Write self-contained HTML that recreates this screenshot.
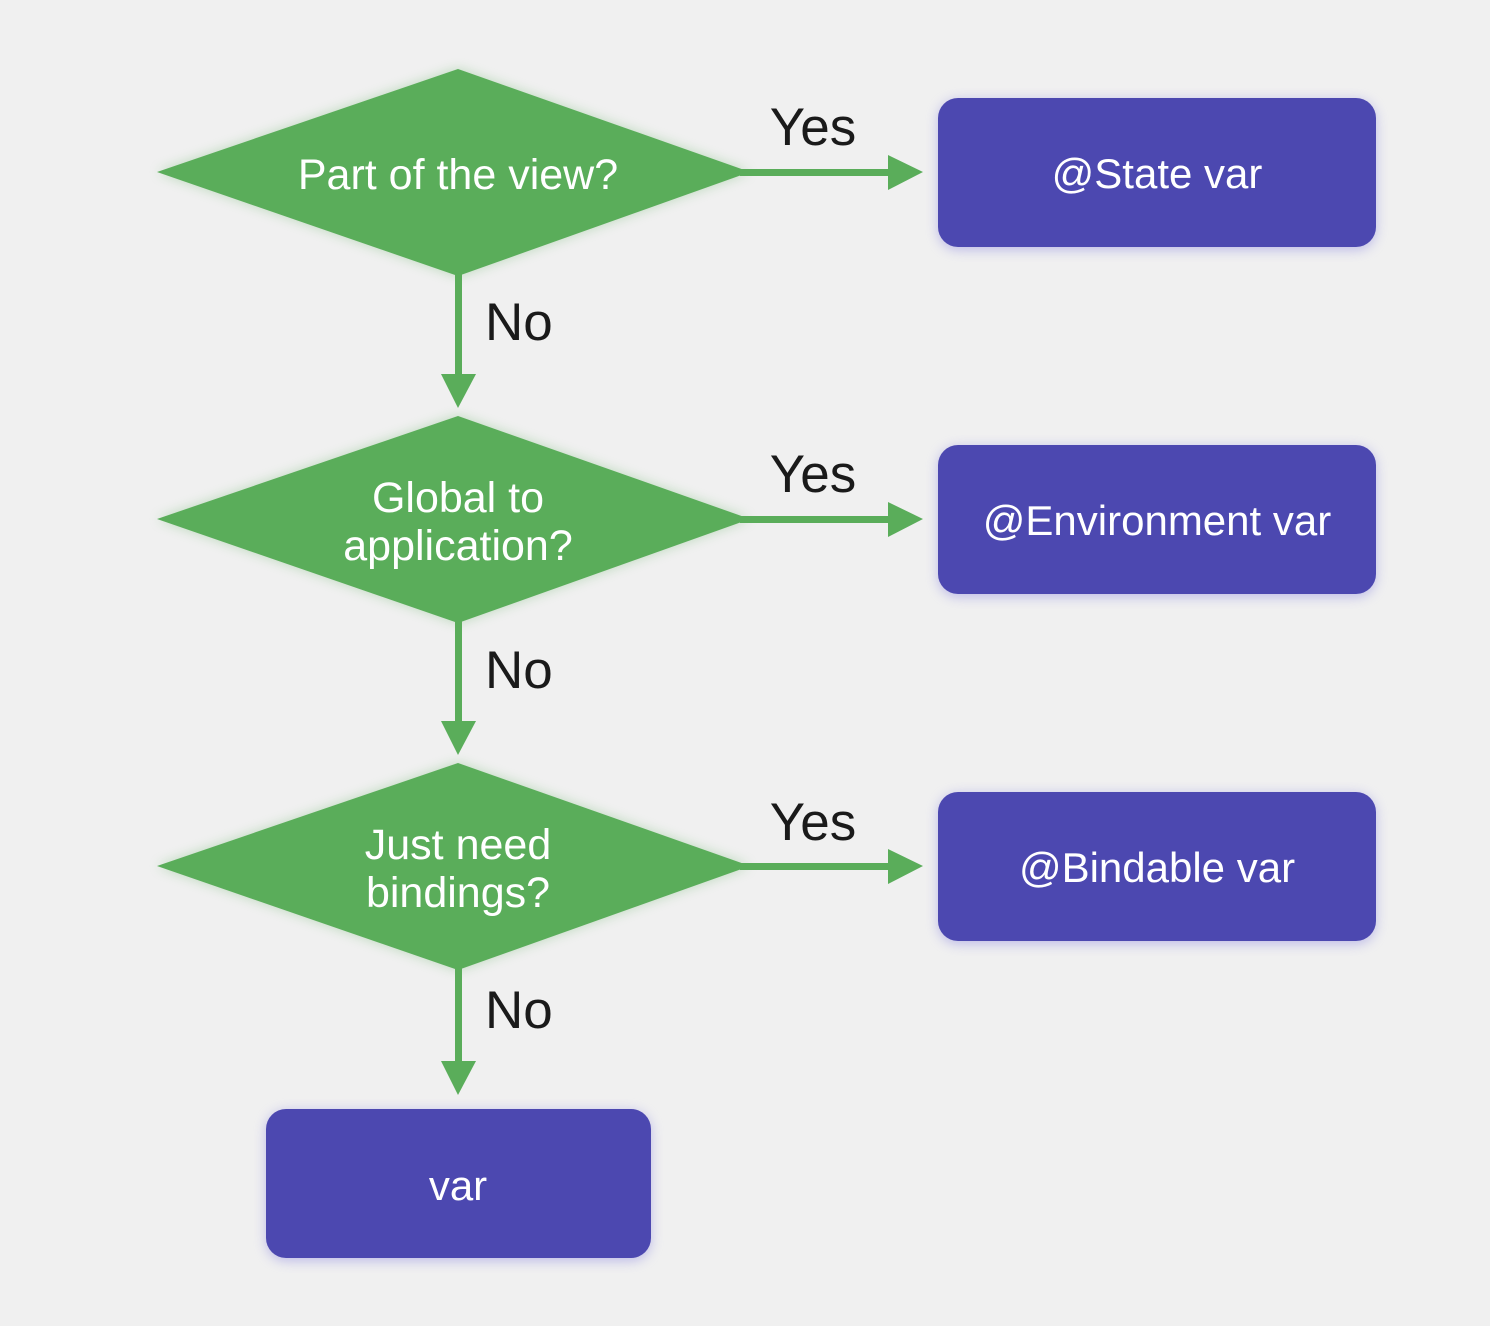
<!DOCTYPE html>
<html><head><meta charset="utf-8"><style>
html,body{margin:0;padding:0;background:#f0f0f0;}
svg{display:block;}
text{font-family:"Liberation Sans",sans-serif;}
</style></head><body>
<svg width="1490" height="1326" viewBox="0 0 1490 1326" xmlns="http://www.w3.org/2000/svg">
<defs>
<filter id="sh" x="-20%" y="-20%" width="140%" height="140%"><feGaussianBlur in="SourceGraphic" stdDeviation="6"/></filter>
</defs>
<rect width="1490" height="1326" fill="#f0f0f0"/>
<g fill="#5aad5a">
  <g opacity="0.35" filter="url(#sh)">
    <polygon points="157,172 458,69 750,172 458,276"/>
    <polygon points="157,519 458,416 750,519 458,623"/>
    <polygon points="157,866 458,763 750,866 458,970"/>
  </g>
  <polygon points="157,172 458,69 750,172 458,276"/>
  <polygon points="157,519 458,416 750,519 458,623"/>
  <polygon points="157,866 458,763 750,866 458,970"/>
  <rect x="740" y="169" width="152" height="7"/><polygon points="888,155 923,172 888,190"/>
  <rect x="740" y="516" width="152" height="7"/><polygon points="888,502 923,519 888,537"/>
  <rect x="740" y="863" width="152" height="7"/><polygon points="888,849 923,866 888,884"/>
  <rect x="455" y="270" width="7" height="108"/><polygon points="441,374 476,374 458,408"/>
  <rect x="455" y="617" width="7" height="108"/><polygon points="441,721 476,721 458,755"/>
  <rect x="455" y="964" width="7" height="100"/><polygon points="441,1061 476,1061 458,1095"/>
</g>
<g fill="#8a86e0" opacity="0.5" filter="url(#sh)">
  <rect x="938" y="100" width="438" height="150" rx="20"/>
  <rect x="938" y="447" width="438" height="150" rx="20"/>
  <rect x="938" y="794" width="438" height="150" rx="20"/>
  <rect x="266" y="1111" width="385" height="150" rx="20"/>
</g>
<g fill="#4c48b0">
  <rect x="938" y="98" width="438" height="149" rx="20"/>
  <rect x="938" y="445" width="438" height="149" rx="20"/>
  <rect x="938" y="792" width="438" height="149" rx="20"/>
  <rect x="266" y="1109" width="385" height="149" rx="20"/>
</g>
<g fill="#fff" font-size="43" text-anchor="middle">
  <text x="458" y="189">Part of the view?</text>
  <text x="458" y="512">Global to</text>
  <text x="458" y="560">application?</text>
  <text x="458" y="859">Just need</text>
  <text x="458" y="907">bindings?</text>
  <text x="1157" y="188" font-size="42">@State var</text>
  <text x="1157" y="535" font-size="42">@Environment var</text>
  <text x="1157" y="882" font-size="42">@Bindable var</text>
  <text x="458" y="1200" font-size="42">var</text>
</g>
<g fill="#1a1a1a" font-size="53">
  <text x="813" y="145" text-anchor="middle">Yes</text>
  <text x="813" y="492" text-anchor="middle">Yes</text>
  <text x="813" y="840" text-anchor="middle">Yes</text>
  <text x="485" y="340">No</text>
  <text x="485" y="688">No</text>
  <text x="485" y="1028">No</text>
</g>
</svg>
</body></html>
